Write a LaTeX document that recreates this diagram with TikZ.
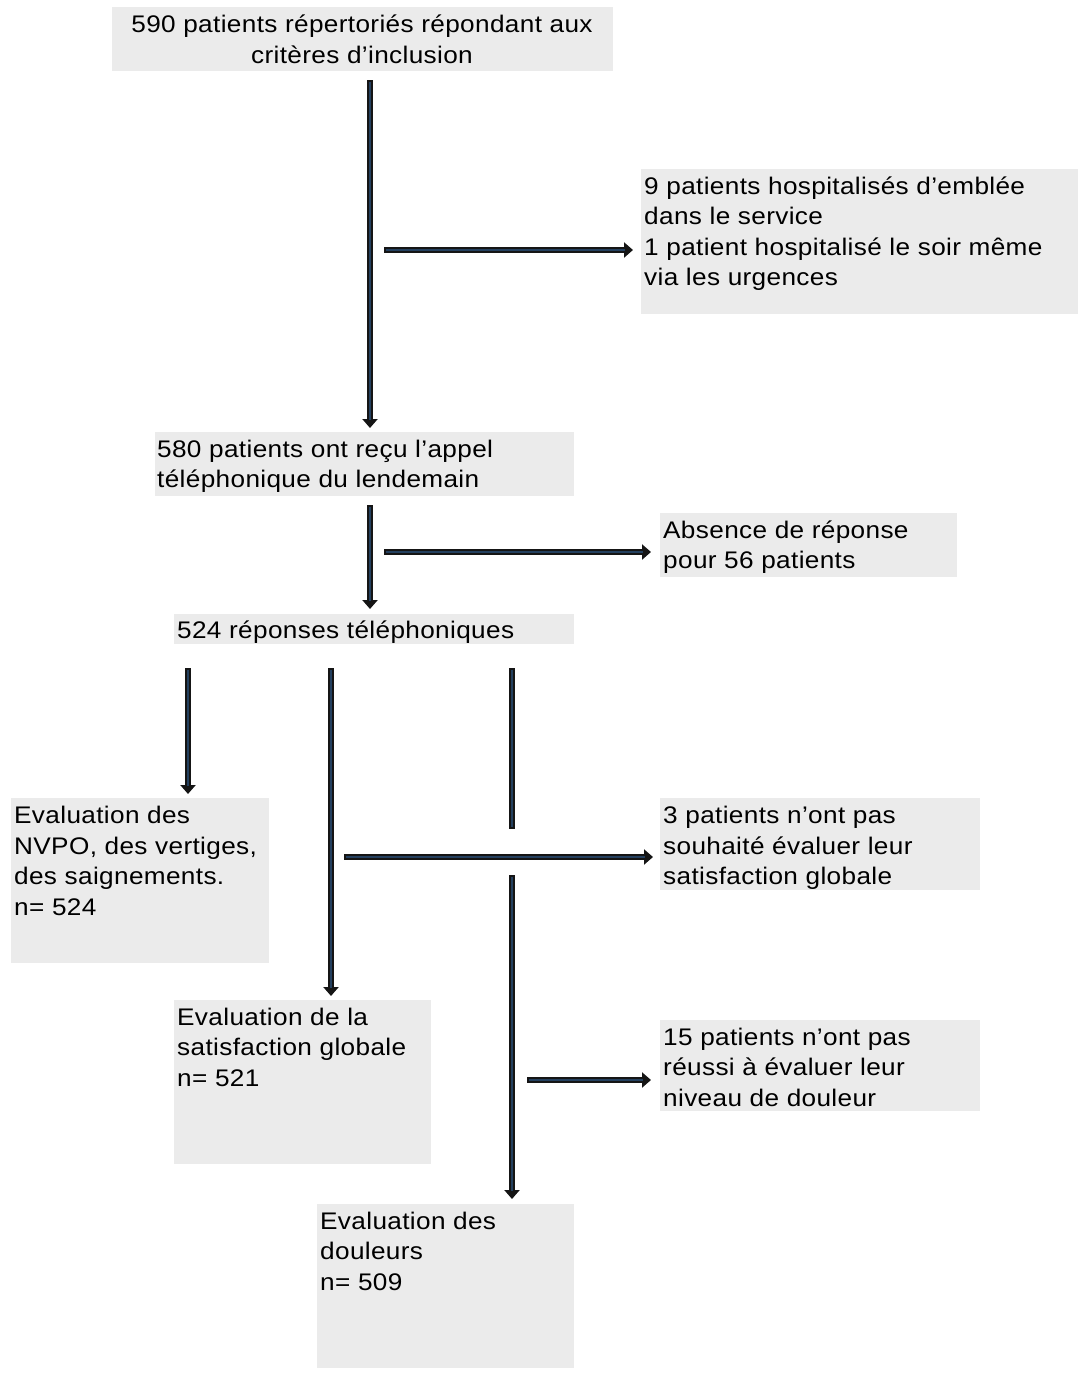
\documentclass[tikz,border=0pt]{standalone}
\usepackage{fontspec}
\setmainfont{Liberation Sans}[FakeStretch=1.09, LetterSpace=1.5]
\usetikzlibrary{arrows.meta}
\definecolor{boxgray}{HTML}{EBEBEB}
\definecolor{arrblue}{HTML}{24405F}
\definecolor{arrdark}{HTML}{151515}
\tikzset{
  box/.style={fill=boxgray, draw=none, anchor=north west, inner sep=0pt},
  txt/.style={font=\fontsize{24}{30.5}\selectfont, align=left, inner sep=0pt, anchor=north west},
  arrout/.style={draw=arrdark, line width=6pt, -{Triangle[length=9pt,width=15pt]}},
  arrin/.style={draw=arrblue, line width=2.6pt, shorten >=8pt, shorten <=1.7pt},
  lineout/.style={draw=arrdark, line width=6pt},
  linein/.style={draw=arrblue, line width=2.6pt, shorten >=1.7pt, shorten <=1.7pt},
}
\newcommand\farrow[2]{\draw[arrout] (#1) -- (#2); \draw[arrin] (#1) -- (#2);}
\newcommand\fline[2]{\draw[lineout] (#1) -- (#2); \draw[linein] (#1) -- (#2);}
\begin{document}
\begin{tikzpicture}[x=1pt,y=-1pt]
\useasboundingbox (0,0) rectangle (1078,1373);
% boxes
\node[box, minimum width=501pt, minimum height=64pt] (b1) at (112,7) {};
\node[txt, align=center, anchor=center] (t1) at (362,39.5) {590 patients répertoriés répondant aux\\critères d’inclusion};
\node[box, minimum width=437pt, minimum height=145pt] (b2) at (641,169) {};
\node[txt] (t2) at (644,176.5) {9 patients hospitalisés d’emblée\\dans le service\\1 patient hospitalisé le soir même\\via les urgences};
\node[box, minimum width=419pt, minimum height=64pt] (b3) at (155,432) {};
\node[txt] (t3) at (157,439.5) {580 patients ont reçu l’appel\\téléphonique du lendemain};
\node[box, minimum width=297pt, minimum height=64pt] (b4) at (660,513) {};
\node[txt] (t4) at (663,520.5) {Absence de réponse\\pour 56 patients};
\node[box, minimum width=400pt, minimum height=30pt] (b5) at (174,614) {};
\node[txt] (t5) at (177,621) {524 réponses téléphoniques};
\node[box, minimum width=258pt, minimum height=165pt] (b6) at (11,798) {};
\node[txt] (t6) at (14,806) {Evaluation des\\NVPO, des vertiges,\\des saignements.\\n= 524};
\node[box, minimum width=320pt, minimum height=92pt] (b7) at (660,798) {};
\node[txt] (t7) at (663,806) {3 patients n’ont pas\\souhaité évaluer leur\\satisfaction globale};
\node[box, minimum width=257pt, minimum height=164pt] (b8) at (174,1000) {};
\node[txt] (t8) at (177,1007.5) {Evaluation de la\\satisfaction globale\\n= 521};
\node[box, minimum width=320pt, minimum height=91pt] (b9) at (660,1020) {};
\node[txt] (t9) at (663,1027.5) {15 patients n’ont pas\\réussi à évaluer leur\\niveau de douleur};
\node[box, minimum width=257pt, minimum height=164pt] (b10) at (317,1204) {};
\node[txt] (t10) at (320,1211.5) {Evaluation des\\douleurs\\n= 509};
% connector coordinates
\coordinate (a1s) at (370,80);   \coordinate (a1e) at (370,428);
\coordinate (a2s) at (384,250);  \coordinate (a2e) at (633,250);
\coordinate (a3s) at (370,505);  \coordinate (a3e) at (370,609);
\coordinate (a4s) at (384,552);  \coordinate (a4e) at (651,552);
\coordinate (a5s) at (188,668);  \coordinate (a5e) at (188,794);
\coordinate (a6s) at (331,668);  \coordinate (a6e) at (331,996);
\coordinate (l7s) at (512,668);  \coordinate (l7e) at (512,829);
\coordinate (a8s) at (512,875);  \coordinate (a8e) at (512,1199);
\coordinate (a9s) at (344,857);  \coordinate (a9e) at (653,857);
\coordinate (a10s) at (527,1080); \coordinate (a10e) at (651,1080);
\farrow{a1s}{a1e}
\farrow{a2s}{a2e}
\farrow{a3s}{a3e}
\farrow{a4s}{a4e}
\farrow{a5s}{a5e}
\farrow{a6s}{a6e}
\fline{l7s}{l7e}
\farrow{a8s}{a8e}
\farrow{a9s}{a9e}
\farrow{a10s}{a10e}
\end{tikzpicture}
\end{document}
